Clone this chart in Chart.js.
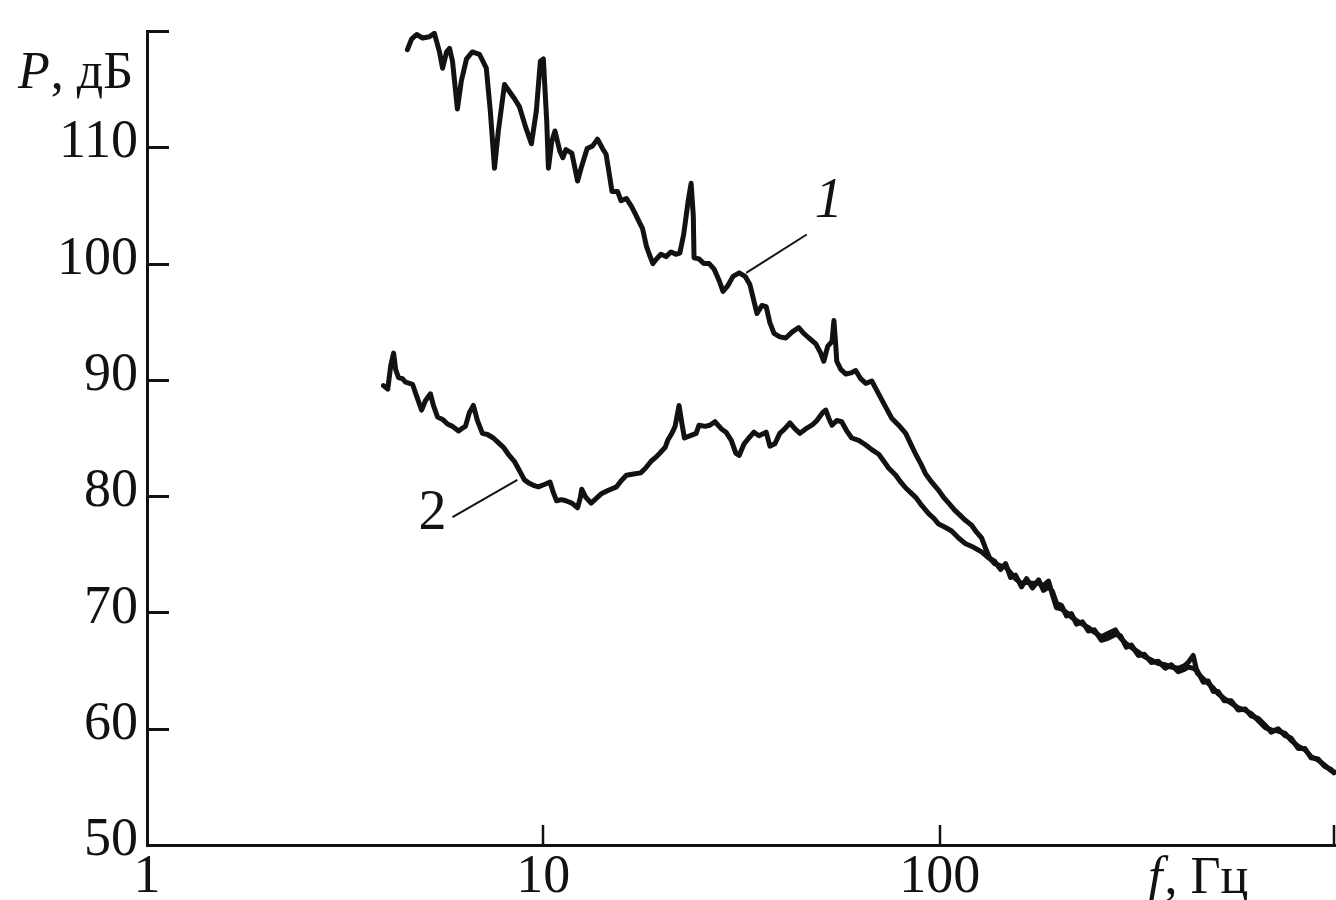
<!DOCTYPE html>
<html>
<head>
<meta charset="utf-8">
<script src="https://cdn.jsdelivr.net/npm/chart.js@4.4.1/dist/chart.umd.min.js"></script>
<style>
  html, body { margin: 0; padding: 0; background: #ffffff; }
  #wrap { width: 1336px; height: 900px; position: relative; }
  canvas { display: block; }
</style>
</head>
<body>
<div id="wrap"><canvas id="chart" width="1336" height="900"></canvas></div>
<script>
// ---------------- DATA ----------------
// Curve 1 (frequency in Hz, level in dB)
const freq1Head = [
  4.54,4.65,4.79,4.96,5.16,5.31,5.47,5.57,5.70,5.80,
  5.90,6.07,6.21,6.40,6.62,6.90,7.18,7.35,7.53,7.70,
  7.98,8.21,8.45,8.70,9.01,9.33,9.60,9.83,10.0,10.2,
  10.3,10.5,10.7,11.0,11.2,11.4,11.8,12.2,12.5,12.9,
  13.3,13.7,14.1,14.4,14.7,14.9,15.4,15.7,16.2,16.7,
  17.1,17.5,17.8,18.2,18.5,18.9,19.3,19.8,20.4,21.0,
  21.6,22.1,22.6,23.2,23.6,23.9,24.0,24.7,25.4,26.2,
  27.0,27.8,28.4,29.2,30.1,31.2,32.3,33.2,
  34.6,35.6,36.5,37.3,38.2,39.5,40.9,42.4,44.1,45.4,
  46.8,48.7,50.1,51.0,52.2,53.5,54.1,54.7,55.0,56.3,
  58.0,59.7,61.4,63.2,65.1,67.4,69.4,71.4,73.5,75.7,
  78.8,82.1,84.5,87.0,89.6,92.2,95.5,99.4,102.3,105.4,
  109.1,113.0,116.3,120.4,123.9,127.6,130.6,133.6,137.6
];
const level1Head = [
  118.4,119.3,119.7,119.4,119.5,119.8,118.2,116.8,118.2,118.5,
  117.4,113.3,115.7,117.6,118.2,118.0,116.8,113.1,108.2,111.4,
  115.4,114.8,114.2,113.5,111.8,110.3,113.1,117.4,117.6,112.2,
  108.2,110.5,111.4,109.7,109.1,109.8,109.5,107.1,108.4,109.9,
  110.1,110.7,109.9,109.4,107.5,106.2,106.2,105.4,105.6,104.9,
  104.2,103.5,103.0,101.5,100.8,100.0,100.4,100.8,100.6,101.0,
  100.8,100.9,102.5,105.4,106.9,104.1,100.5,100.4,100.0,100.0,
  99.5,98.5,97.6,98.1,98.9,99.2,98.9,98.2,
  95.7,96.4,96.3,94.9,94.0,93.7,93.6,94.1,94.5,94.0,
  93.6,93.1,92.3,91.6,92.9,93.3,95.1,92.9,91.6,90.9,
  90.5,90.6,90.8,90.1,89.7,89.9,89.1,88.3,87.5,86.7,
  86.1,85.4,84.5,83.6,82.8,81.9,81.2,80.5,79.9,79.4,
  78.8,78.3,77.9,77.5,76.9,76.4,75.5,74.7,74.2
];
// Curve 2
const freq2Head = [
  3.95,4.05,4.12,4.19,4.24,4.31,4.41,4.49,4.60,4.68,
  4.79,4.93,5.04,5.19,5.28,5.41,5.57,5.73,5.90,6.11,
  6.22,6.36,6.51,6.66,6.82,7.02,7.23,7.48,7.70,7.93,
  8.16,8.45,8.70,8.96,9.22,9.49,9.71,10.06,10.4,10.6,
  10.8,11.1,11.4,11.8,12.2,12.4,12.5,12.8,13.2,13.6,
  14.0,14.6,15.3,15.7,16.2,16.9,17.6,18.1,18.7,19.3,
  19.8,20.3,20.6,21.1,21.5,22.0,22.4,22.7,23.5,24.3,
  24.7,25.6,26.3,27.1,28.1,28.9,29.8,30.6,31.2,32.1,
  33.0,34.0,35.0,36.5,37.3,38.4,39.5,40.7,41.9,43.1,
  44.4,46.0,47.6,49.0,50.7,51.6,52.5,53.5,55.0,56.6,
  58.3,60.0,62.5,65.1,67.4,70.2,72.3,74.4,77.5,79.8,
  82.1,84.5,87.0,90.1,93.8,96.6,99.4,103.5,107.2,111.6,
  116.3,121.8,127.6,132.8,137.6
];
const level2Head = [
  89.5,89.2,91.2,92.3,90.9,90.2,90.1,89.8,89.7,89.6,
  88.6,87.4,88.2,88.8,87.8,86.8,86.6,86.2,86.0,85.6,
  85.8,86.0,87.2,87.8,86.5,85.4,85.3,85.0,84.6,84.2,
  83.6,83.0,82.2,81.4,81.1,80.9,80.8,81.0,81.2,80.3,
  79.6,79.7,79.6,79.4,79.0,79.9,80.6,79.9,79.4,79.8,
  80.2,80.5,80.8,81.3,81.8,81.9,82.0,82.4,83.0,83.4,
  83.8,84.2,84.8,85.4,86.0,87.8,86.1,85.0,85.2,85.4,
  86.1,86.0,86.1,86.4,85.8,85.5,84.8,83.7,83.5,84.5,
  85.0,85.5,85.2,85.5,84.3,84.5,85.4,85.8,86.3,85.8,
  85.4,85.8,86.1,86.5,87.2,87.4,86.7,86.1,86.5,86.4,
  85.6,85.0,84.8,84.4,84.0,83.6,83.0,82.4,81.8,81.2,
  80.7,80.3,79.9,79.2,78.5,78.1,77.6,77.3,77.0,76.4,
  75.9,75.6,75.2,74.7,74.4
];
// High-frequency part where both curves run together
const tailFreq = [
  142.5,146.7,151.0,155.4,160.9,165.6,171.5,177.6,182.8,188.2,
  192.6,197.1,202.9,208.9,215.0,221.4,229.2,237.3,245.7,255.9,
  266.6,277.5,285.8,295.8,304.5,317.1,328.4,342.0,356.1,370.9,
  384.1,399.9,414.1,423.8,436.3,446.5,462.4,476.1,490.1,504.5,
  522.4,544.0,566.5,589.9,610.8,636.1,662.4,686.2,714.6,744.0,
  770.4,802.3,835.3,865.0,901.1,933.1,971.4,988
];
const tailLevel1 = [
  74.0,73.9,73.4,72.9,72.5,72.6,72.5,72.5,72.3,72.7,
  71.5,70.4,70.3,70.0,69.6,69.3,69.0,68.7,68.3,67.9,
  68.2,68.5,67.8,67.3,67.0,66.6,66.2,65.9,65.6,65.5,
  65.3,65.2,65.4,65.7,66.3,64.8,64.3,63.9,63.5,63.0,
  62.6,62.2,61.8,61.6,61.3,60.7,60.1,59.9,59.8,59.6,
  59.0,58.5,58.2,57.6,57.3,56.9,56.4,56.3
];
const tailLevel2 = [
  73.7,74.2,73.0,73.2,72.2,72.9,72.1,72.8,71.9,72.2,
  71.8,70.8,70.6,69.7,69.9,69.0,69.2,68.4,68.5,67.6,
  67.8,68.1,68.0,67.0,67.2,66.3,66.4,65.7,65.8,65.2,
  65.5,64.9,65.1,65.3,65.2,65.0,64.0,64.1,63.2,63.2,
  62.4,62.4,61.6,61.7,61.1,60.9,60.3,59.7,60.0,59.4,
  59.2,58.3,58.3,57.5,57.4,56.8,56.5,56.2
];

const freq1 = freq1Head.concat(tailFreq);
const level1 = level1Head.concat(tailLevel1);
const freq2 = freq2Head.concat(tailFreq);
const level2 = level2Head.concat(tailLevel2);

// Axes
const xTicks = [1, 10, 100, 1000];
const xTickLabels = ['1', '10', '100', ''];
const yTicks = [50, 60, 70, 80, 90, 100, 110, 120];
const yTickLabels = ['50', '60', '70', '80', '90', '100', '110', ''];

// Curve labels & leader lines (data units)
const curveLabels = [
  { text: '1', italic: true,  f: 52.5, p: 105.3, lead: [[32.5, 99.2], [46.2, 102.5]] },
  { text: '2', italic: false, f: 5.25, p: 78.4,  lead: [[8.60, 81.4], [5.90, 78.2]] }
];

// ---------------- STYLE ----------------
const INK = '#121212';
const SERIF = '"Liberation Serif", "DejaVu Serif", serif';

const toPts = (fs, ls) => fs.map((f, i) => ({ x: f, y: ls[i] }));

const decorations = {
  id: 'decorations',
  afterDraw(chart) {
    const { ctx, chartArea: a, scales: { x, y } } = chart;
    ctx.save();
    ctx.strokeStyle = INK;
    ctx.fillStyle = INK;
    ctx.lineCap = 'butt';
    // inward ticks on y axis
    ctx.lineWidth = 3;
    yTicks.forEach(v => {
      if (v === yTicks[0]) return;
      const py = Math.round(y.getPixelForValue(v)) + 0.5;
      ctx.beginPath(); ctx.moveTo(a.left, py); ctx.lineTo(a.left + 22, py); ctx.stroke();
    });
    // inward ticks on x axis
    ctx.lineWidth = 2.5;
    xTicks.forEach(v => {
      if (v === xTicks[0]) return;
      const px = Math.min(Math.round(x.getPixelForValue(v)), 1334);
      ctx.beginPath(); ctx.moveTo(px, a.bottom); ctx.lineTo(px, a.bottom - 20); ctx.stroke();
    });
    // axis titles
    ctx.textBaseline = 'alphabetic';
    ctx.textAlign = 'left';
    ctx.font = 'italic 52px ' + SERIF;
    const yx = 18, yb = a.top + 57;
    ctx.fillText('P', yx, yb);
    const pw = ctx.measureText('P').width;
    ctx.font = '52px ' + SERIF;
    ctx.fillText(', дБ', yx + pw + 1, yb);

    const fx = 1148, fb = 893;
    ctx.font = 'italic 52px ' + SERIF;
    ctx.fillText('f', fx, fb);
    const fw = ctx.measureText('f').width;
    ctx.font = '52px ' + SERIF;
    ctx.fillText(', Гц', fx + fw + 2, fb);

    // curve labels with leader lines
    ctx.lineWidth = 2;
    curveLabels.forEach(c => {
      ctx.beginPath();
      ctx.moveTo(x.getPixelForValue(c.lead[0][0]), y.getPixelForValue(c.lead[0][1]));
      ctx.lineTo(x.getPixelForValue(c.lead[1][0]), y.getPixelForValue(c.lead[1][1]));
      ctx.stroke();
      ctx.font = (c.italic ? 'italic ' : '') + '56px ' + SERIF;
      ctx.textAlign = 'center';
      ctx.textBaseline = 'middle';
      ctx.fillText(c.text, x.getPixelForValue(c.f), y.getPixelForValue(c.p));
    });
    ctx.restore();
  }
};

new Chart(document.getElementById('chart'), {
  type: 'line',
  data: {
    datasets: [
      { label: '1', data: toPts(freq1, level1), borderColor: INK, borderWidth: 5, pointRadius: 0, tension: 0, fill: false, borderJoinStyle: 'round', borderCapStyle: 'round' },
      { label: '2', data: toPts(freq2, level2), borderColor: INK, borderWidth: 5, pointRadius: 0, tension: 0, fill: false, borderJoinStyle: 'round', borderCapStyle: 'round' }
    ]
  },
  options: {
    responsive: false,
    animation: false,
    devicePixelRatio: 1,
    layout: { padding: { top: 31, left: 0, right: -2, bottom: 0 } },
    plugins: { legend: { display: false }, tooltip: { enabled: false } },
    scales: {
      x: {
        type: 'logarithmic',
        min: 1, max: 1000,
        grid: { display: false, drawTicks: false, tickLength: 0 },
        border: { display: true, color: INK, width: 3 },
        afterBuildTicks: s => { s.ticks = xTicks.map(v => ({ value: v })); },
        afterFit: s => { s.height = 55; s.paddingLeft = 0; s.paddingRight = 0; },
        ticks: {
          autoSkip: false, maxRotation: 0, minRotation: 0,
          padding: 6,
          color: INK,
          font: { family: SERIF, size: 54, lineHeight: 1 },
          callback: (v, i) => xTickLabels[i]
        }
      },
      y: {
        type: 'linear',
        min: 50, max: 120,
        grid: { display: false, drawTicks: false, tickLength: 0 },
        border: { display: true, color: INK, width: 3 },
        afterBuildTicks: s => { s.ticks = yTicks.map(v => ({ value: v })); },
        afterFit: s => { s.width = 147; s.paddingTop = 0; s.paddingBottom = 0; },
        ticks: {
          autoSkip: false,
          padding: 9,
          labelOffset: -4,
          color: INK,
          font: { family: SERIF, size: 54, lineHeight: 1 },
          callback: (v, i) => yTickLabels[i]
        }
      }
    }
  },
  plugins: [decorations]
});
</script>
</body>
</html>
